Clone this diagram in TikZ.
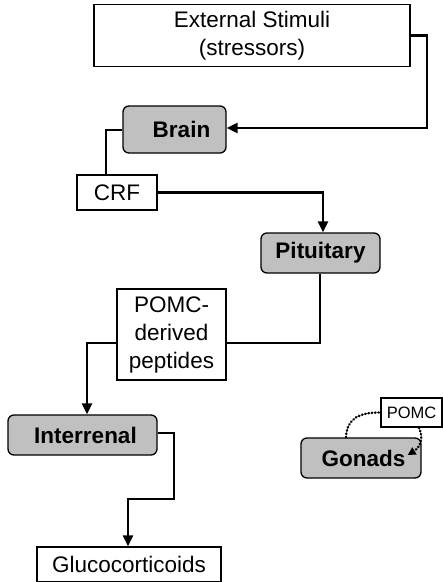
\documentclass[tikz,border=0pt]{standalone}
\usepackage{fontspec}
\setmainfont{Liberation Sans}
\usetikzlibrary{arrows.meta}
\definecolor{organgray}{RGB}{192,192,192}
\begin{document}
\begin{tikzpicture}[x=1pt,y=-1pt,
  every node/.style={font=\fontsize{22.5}{28}\selectfont, inner sep=0pt, align=center},
  plainbox/.style={draw=black, line width=1.3pt, fill=white, rectangle},
  organ/.style={draw=black, line width=1.3pt, fill=organgray, rounded corners=6pt,
                font=\fontsize{22.5}{28}\selectfont\bfseries},
  link/.style={line width=2.2pt, draw=black},
  arr/.style={link, -{Triangle[length=11pt,width=10pt]}},
  dotlink/.style={line width=2.3pt, dash pattern=on 0.7pt off 2.6pt, line cap=round}
]
\useasboundingbox (0,0) rectangle (443,582);

% stimulus and signal boxes
\node[plainbox, minimum width=316pt, minimum height=62pt] (ext) at (252,35.5)
  {External Stimuli\\(stressors)};
\node[plainbox, minimum width=80pt, minimum height=35pt] (crf) at (117,192.5) {CRF};
\node[plainbox, minimum width=109pt, minimum height=91pt] (pomcd) at (171.5,334.5)
  {POMC-\\derived\\peptides};
\node[plainbox, minimum width=184pt, minimum height=35pt] (gluc) at (129,564.5)
  {Glucocorticoids};

% tissues
\node[organ, minimum width=103pt, minimum height=47pt] (brain) at (174.5,129.5)
  {\hspace*{14pt}Brain};
\node[organ, minimum width=119pt, minimum height=40pt] (pit) at (320.5,253) {Pituitary};
\node[organ, minimum width=149pt, minimum height=40pt] (intr) at (82.5,435)
  {\hspace*{6pt}Interrenal};
\node[organ, minimum width=120pt, minimum height=40pt] (gon) at (361,458)
  {\hspace*{5pt}Gonads};
\node[plainbox, minimum width=61pt, minimum height=29pt,
      font=\fontsize{16.5}{20}\selectfont] (pomc) at (411.5,412.5) {POMC};

% axis connectors
\draw[arr] (ext.east) -- ++(16,0) |- ([yshift=1.5pt]brain.east);
\draw[link] ([yshift=-0.5pt]brain.west) -| ([xshift=-11pt]crf.north);
\draw[arr] (crf.east) -| ([xshift=2.5pt]pit.north);
\draw[link] ([xshift=-0.5pt]pit.south) |- ([yshift=-8.5pt]pomcd.east);
\draw[arr] ([yshift=-8.5pt]pomcd.west) -| ([xshift=4.5pt]intr.north);
\coordinate (bend) at (174,499);
\draw[arr] ([yshift=2pt]intr.east) -| (bend) -| ([xshift=-1pt]gluc.north);

% local POMC loop in the gonads
\draw[dotlink] ([xshift=-15pt]gon.north) .. controls ++(1,-20) and ++(-20,0) .. (pomc.west);
\draw[dotlink, -{Triangle[length=8pt,width=8pt]}]
  ([xshift=7.5pt]pomc.south) .. controls ++(6,13) and ++(10,-6) .. ([xshift=-14pt,yshift=3pt]gon.east);
\end{tikzpicture}
\end{document}
